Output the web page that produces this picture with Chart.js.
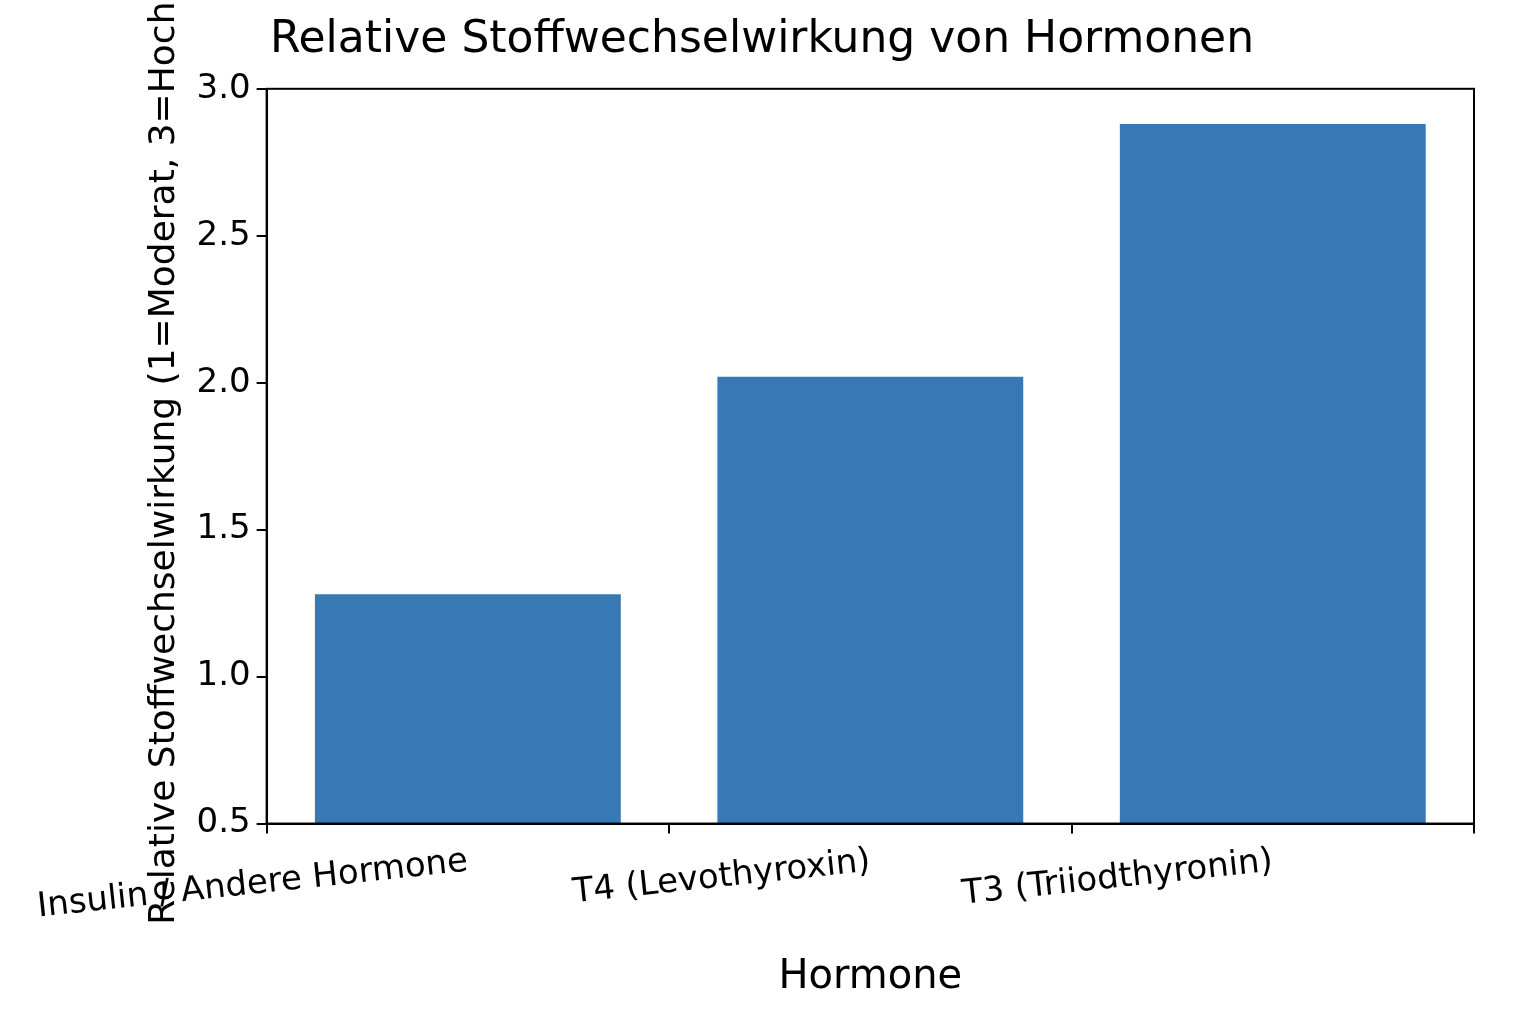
<!DOCTYPE html>
<html><head><meta charset="utf-8">
<script src="https://cdn.jsdelivr.net/npm/chart.js@4/dist/chart.umd.min.js"></script>
<style>html,body{margin:0;background:#fff}#w{width:1536px;height:1024px}</style>
</head><body><div id="w"><canvas id="c"></canvas></div>
<script>
const categories = ["Insulin / Andere Hormone", "T4 (Levothyroxin)", "T3 (Triiodthyronin)"];
const values = [1.28, 2.02, 2.88];
const yTicks = [0.5, 1.0, 1.5, 2.0, 2.5, 3.0];
const F = "DejaVu Sans";
const border = {id:'bd',afterDraw(c){const a=c.chartArea,x=c.ctx;x.save();x.strokeStyle='#000';x.lineWidth=2;x.strokeRect(a.left,a.top,a.right-a.left,a.bottom-a.top);x.restore();}};
const tickGrid = {display:true,drawOnChartArea:false,drawTicks:true,tickLength:10,color:'#000',lineWidth:2};
new Chart(document.getElementById('c'), {
  type:'bar',
  data:{labels:categories,datasets:[{data:values,backgroundColor:'#3679b5',barPercentage:0.76,categoryPercentage:1}]},
  options:{responsive:true,maintainAspectRatio:false,animation:false,
    layout:{padding:{left:50,right:62,top:8,bottom:18}},
    plugins:{legend:{display:false},tooltip:{enabled:false},
      title:{display:true,text:'Relative Stoffwechselwirkung von Hormonen',color:'#000',font:{family:F,size:44,weight:'normal'},padding:{top:6,bottom:22}}},
    scales:{
      x:{grid:tickGrid,border:{color:'#000',width:2},
        ticks:{color:'#000',font:{family:F,size:34},padding:8},
        title:{display:true,text:'Hormone',color:'#000',font:{family:F,size:40},padding:{top:18}}},
      y:{min:0.5,max:3.0,grid:tickGrid,border:{color:'#000',width:2},
        afterBuildTicks:ax=>{ax.ticks=yTicks.map(v=>({value:v}));},
        ticks:{color:'#000',font:{family:F,size:34},callback:v=>v.toFixed(1),padding:6},
        title:{display:true,text:'Relative Stoffwechselwirkung (1=Moderat, 3=Hoch)',color:'#000',font:{family:F,size:36},padding:{bottom:4}}}
    }},
  plugins:[border]
});
</script></body></html>
